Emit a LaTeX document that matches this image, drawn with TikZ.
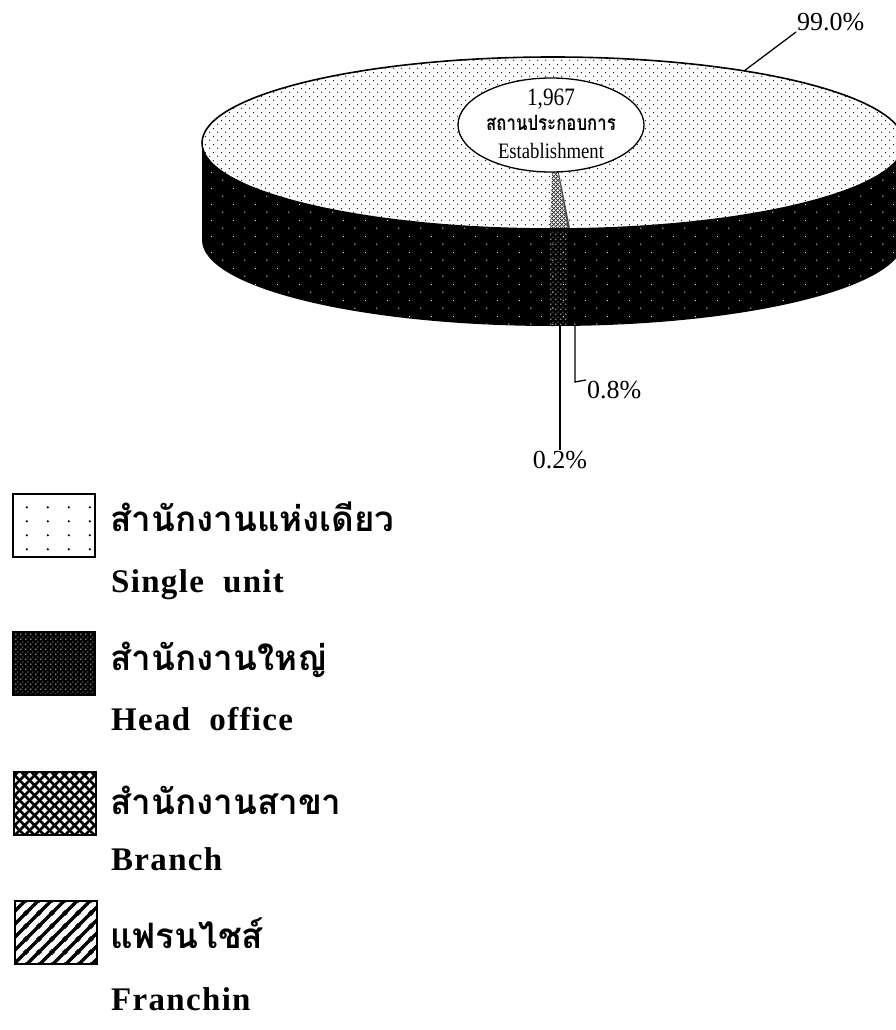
\documentclass[tikz,border=0pt]{standalone}
\usepackage{fontspec}
\setmainfont{Liberation Serif}
\newfontfamily\thaifont[Script=Thai]{Loma}
\newfontfamily\thaicond[Script=Thai, FakeStretch=0.8]{Loma}
\newfontfamily\legendfont[LetterSpace=4]{Liberation Serif}
\newfontfamily\condfont[FakeStretch=0.85]{Liberation Serif}
\usetikzlibrary{
    patterns,
    patterns.meta,
    positioning
}
% fill patterns
\tikzdeclarepattern{name=topdots, type=uncolored,
    bounding box={(0pt,0pt) and (8pt,8pt)}, tile size={(8pt,8pt)},
    code={\fill (2pt,2pt) circle (0.75pt); \fill (6pt,6pt) circle (0.75pt);}}
\tikzdeclarepattern{name=sidedots, type=uncolored,
    bounding box={(0pt,0pt) and (22pt,16pt)}, tile size={(22pt,16pt)},
    code={\fill (3pt,2pt) circle (0.7pt); \fill (14pt,10pt) circle (0.6pt);}}
\tikzdeclarepattern{name=densedots, type=uncolored,
    bounding box={(0pt,0pt) and (5pt,5pt)}, tile size={(5pt,5pt)},
    code={\fill (1pt,1pt) circle (0.8pt); \fill (3.5pt,3.5pt) circle (0.6pt);}}
\tikzdeclarepattern{name=legdots, type=uncolored,
    bounding box={(0pt,0pt) and (21pt,14pt)}, tile size={(21pt,14pt)},
    code={\fill (6pt,5pt) circle (1.3pt);}}
\tikzdeclarepattern{name=weave, type=uncolored,
    bounding box={(0pt,0pt) and (10pt,10pt)}, tile size={(10pt,10pt)},
    code={\draw[line width=2.8pt] (-1pt,-1pt) -- (11pt,11pt) (-1pt,11pt) -- (11pt,-1pt);}}
\tikzdeclarepattern{name=smallweave, type=uncolored,
    bounding box={(0pt,0pt) and (4pt,4pt)}, tile size={(4pt,4pt)},
    code={\draw[line width=0.9pt] (-1pt,-1pt) -- (5pt,5pt) (-1pt,5pt) -- (5pt,-1pt);}}
\tikzdeclarepattern{name=stripes, type=uncolored,
    bounding box={(0pt,0pt) and (13pt,13pt)}, tile size={(13pt,13pt)},
    code={\draw[line width=3.6pt] (-2pt,-2pt) -- (15pt,15pt) (-2pt,11pt) -- (2pt,15pt) (11pt,-2pt) -- (15pt,2pt);}}
\tikzset{
    % radii of the pie
    pie radii/.style={x radius=351, y radius=86},
    % legend swatch
    legendbox/.style={
        rectangle,
        draw=black,
        line width=2pt,
        minimum width=82pt,
        minimum height=63pt,
        inner sep=0pt
    },
    % legend texts
    legendthai/.style={
        anchor=west,
        inner sep=0pt,
        font=\thaifont\bfseries\fontsize{35}{40}\selectfont
    },
    legendeng/.style={
        anchor=base west,
        inner sep=0pt,
        font=\legendfont\bfseries\fontsize{33}{38}\selectfont
    },
    % percentage labels
    pctlabel/.style={
        inner sep=1pt,
        font=\fontsize{26}{28}\selectfont
    },
    % texts in the middle
    totaltext/.style={
        inner sep=0pt
    },
    leader/.style={
        line width=1.3pt,
        draw=black
    }
}

\begin{document}
\begin{tikzpicture}[x=1pt, y=1pt]
    \useasboundingbox (0,0) rectangle (896,-1030);

    % Pie centre
    \coordinate (pc) at (553,-143);

    % Side of the pie
    \fill[black] ([shift={(pc)}]180:351 and 86) arc[pie radii, start angle=180, end angle=360]
        -- ++(0,-97) arc[pie radii, start angle=360, end angle=180] -- cycle;
    \path[pattern=sidedots, pattern color=white] ([shift={(pc)}]180:351 and 86) arc[pie radii, start angle=180, end angle=360]
        -- ++(0,-97) arc[pie radii, start angle=360, end angle=180] -- cycle;
    \path[pattern=densedots, pattern color=white] ([shift={(pc)}]269.5:351 and 86) arc[pie radii, start angle=269.5, end angle=272.4]
        -- ++(0,-97) arc[pie radii, start angle=272.4, end angle=269.5] -- cycle;

    % Top of the pie
    \path[fill=white] (pc) ellipse[pie radii];
    \path[pattern=topdots] (pc) ellipse[pie radii];
    \fill[white] (pc) -- ([shift={(pc)}]269.5:351 and 86) arc[pie radii, start angle=269.5, end angle=272.4] -- cycle;
    \path[pattern=smallweave, pattern color=black!80] (pc) -- ([shift={(pc)}]269.5:351 and 86) arc[pie radii, start angle=269.5, end angle=272.4] -- cycle;
    \fill[black!70] (pc) -- ([shift={(pc)}]272.4:351 and 86) arc[pie radii, start angle=272.4, end angle=272.8] -- cycle;
    \draw[line width=1.6pt] (pc) ellipse[pie radii];

    % Total in the middle
    \draw[line width=1.3pt, fill=white] (551,-125) ellipse[x radius=93, y radius=47];
    \node[totaltext, font=\condfont\fontsize{25}{26}\selectfont] (total) at (551,-99) {1,967};
    \node[totaltext, font=\thaicond\bfseries\fontsize{21}{24}\selectfont] (totalthai) at (551,-123) {สถานประกอบการ};
    \node[totaltext, font=\condfont\fontsize{22}{26}\selectfont] (totaleng) at (551,-151) {Establishment};

    % Labels and leaders
    \node[pctlabel, anchor=south west] (single) at (796,-32) {99.0\%};
    \coordinate (singleend) at ([shift={(pc)}]57:351 and 86);
    \draw[leader] (singleend) -- (single.south west);

    \coordinate (branchend) at (575,-326);
    \node[pctlabel, anchor=west] (branch) at (586,-390) {0.8\%};
    \draw[leader] (branchend) -- ++(0,-56) -- (branch.north west);

    \coordinate (headend) at (560,-326);
    \node[pctlabel, anchor=north] (head) at (560,-450) {0.2\%};
    \draw[leader] (headend) -- (head.north);

    % Legend
    \node[legendbox, fill=white, pattern=legdots] (keysingle) at (54,-525) {};
    \node[legendthai] (thaisingle) at (110,-517) {สำนักงานแห่งเดียว};
    \node[legendeng] (engsingle) at (111,-592) {Single\ \ unit};

    \node[legendbox, preaction={fill=black}, pattern=densedots, pattern color=white] (keyhead) at (54,-663) {};
    \node[legendthai] (thaihead) at (110,-660) {สำนักงานใหญ่};
    \node[legendeng] (enghead) at (111,-730) {Head\ \ office};

    \node[legendbox, preaction={fill=white}, pattern=weave] (keybranch) at (55,-803) {};
    \node[legendthai] (thaibranch) at (110,-800) {สำนักงานสาขา};
    \node[legendeng] (engbranch) at (111,-870) {Branch};

    \node[legendbox, preaction={fill=white}, pattern=stripes] (keyfranch) at (56,-932) {};
    \node[legendthai] (thaifranch) at (110,-933) {แฟรนไชส์};
    \node[legendeng] (engfranch) at (111,-1010) {Franchin};

\end{tikzpicture}
\end{document}
